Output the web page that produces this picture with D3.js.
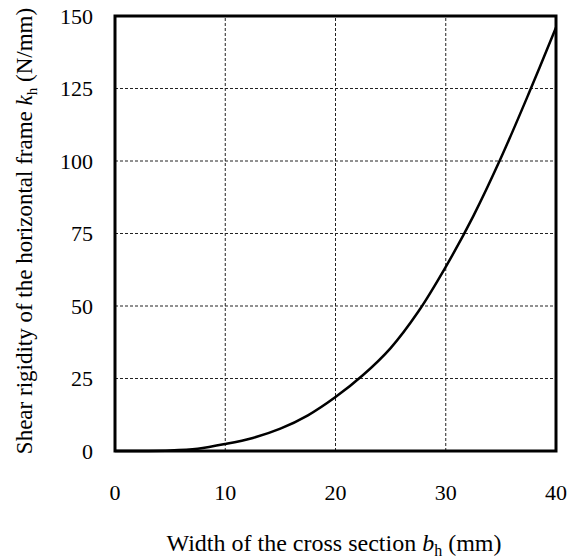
<!DOCTYPE html>
<html>
<head>
<meta charset="utf-8">
<script src="https://cdn.jsdelivr.net/npm/d3@7"></script>
<style>
  body { margin: 0; background: #fff; }
  text { font-family: "Liberation Serif", "Times New Roman", serif; fill: #000; }
</style>
</head>
<body>
<svg id="chart" width="581" height="558"></svg>
<script>
// width of the cross section b_h (mm)
const widths = [0, 5, 7.5, 10, 12.5, 15, 17.5, 20, 22.5, 25, 27.5, 30, 32.5, 35, 37.5, 40];
// shear rigidity k_h (N/mm)
const rigidity = [0, 0.2, 0.8, 2.4, 4.5, 7.7, 12.3, 18.6, 26.2, 35.5, 48, 63.5, 81, 101, 123, 146];
const xTicks = [0, 10, 20, 30, 40];
const yTicks = [0, 25, 50, 75, 100, 125, 150];

const svg = d3.select("#chart");
const margin = { top: 16, right: 25, bottom: 107, left: 115 };
const width = 581, height = 558;

const x = d3.scaleLinear().domain([0, 40]).range([margin.left, width - margin.right]);
const y = d3.scaleLinear().domain([0, 150]).range([height - margin.bottom, margin.top]);

// grid
svg.append("g")
    .selectAll("line")
    .data(xTicks.slice(1, -1))
    .join("line")
    .attr("x1", d => x(d)).attr("x2", d => x(d))
    .attr("y1", y(0)).attr("y2", y(150))
    .attr("stroke", "#222").attr("stroke-width", 1)
    .attr("stroke-dasharray", "3,2");

svg.append("g")
    .selectAll("line")
    .data(yTicks.slice(1, -1))
    .join("line")
    .attr("x1", x(0)).attr("x2", x(40))
    .attr("y1", d => y(d)).attr("y2", d => y(d))
    .attr("stroke", "#222").attr("stroke-width", 1)
    .attr("stroke-dasharray", "3,2");

// curve
const line = d3.line()
    .x((d, i) => x(widths[i]))
    .y(d => y(d))
    .curve(d3.curveCatmullRom.alpha(0.5));

svg.append("path")
    .datum(rigidity)
    .attr("d", line)
    .attr("fill", "none")
    .attr("stroke", "#000")
    .attr("stroke-width", 2.5);

// frame
svg.append("rect")
    .attr("x", x(0)).attr("y", y(150))
    .attr("width", x(40) - x(0)).attr("height", y(0) - y(150))
    .attr("fill", "none").attr("stroke", "#000").attr("stroke-width", 3);

// tick labels
svg.append("g")
    .selectAll("text")
    .data(xTicks)
    .join("text")
    .attr("x", d => x(d))
    .attr("y", 500)
    .attr("text-anchor", "middle")
    .style("font-size", "22px")
    .text(d => d);

svg.append("g")
    .selectAll("text")
    .data(yTicks)
    .join("text")
    .attr("x", 93)
    .attr("y", d => y(d))
    .attr("dy", "0.35em")
    .attr("text-anchor", "end")
    .style("font-size", "22px")
    .text(d => d);

// axis titles
const xt = svg.append("text")
    .attr("x", 334).attr("y", 551)
    .attr("text-anchor", "middle")
    .style("font-size", "24px");
xt.append("tspan").text("Width of the cross section ");
xt.append("tspan").style("font-style", "italic").text("b");
xt.append("tspan").attr("dy", 5).style("font-size", "16px").text("h");
xt.append("tspan").attr("dy", -5).text(" (mm)");

const yt = svg.append("text")
    .attr("transform", "translate(32,231) rotate(-90)")
    .attr("text-anchor", "middle")
    .style("font-size", "23px");
yt.append("tspan").text("Shear rigidity of the horizontal frame ");
yt.append("tspan").style("font-style", "italic").text("k");
yt.append("tspan").attr("dy", 5).style("font-size", "15px").text("h");
yt.append("tspan").attr("dy", -5).text(" (N/mm)");
</script>
</body>
</html>
